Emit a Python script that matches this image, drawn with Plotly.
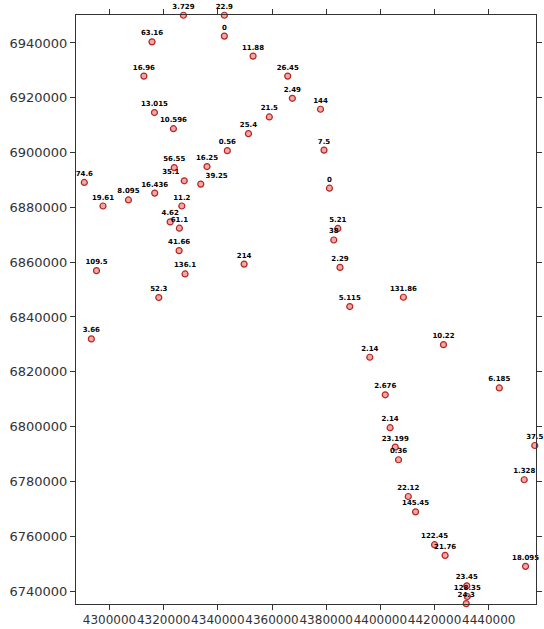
import plotly.graph_objects as go

# Sample locations (easting, northing) and measured values
easting = [
    4327300, 4342400, 4342400, 4315700, 4312700, 4316600, 4323600, 4287300,
    4343500, 4353000, 4365800, 4367500, 4377900, 4359000, 4351300, 4379200,
    4323900, 4336000, 4327600, 4333700, 4290700, 4316700, 4307000, 4297600,
    4326700, 4322400, 4325800, 4325700, 4295200, 4327900, 4318200, 4381200,
    4384300, 4382800, 4349700, 4385100, 4293300, 4408500, 4388700, 4423300,
    4396100, 4443900, 4401800, 4403600, 4405500, 4406700, 4457000, 4453100,
    4410300, 4413000, 4420000, 4423900, 4453600, 4431900, 4432100, 4431700,
]
northing = [
    6950100, 6950100, 6942500, 6940400, 6927900, 6914600, 6908700, 6906000,
    6900700, 6935200, 6927900, 6919800, 6915800, 6913000, 6906900, 6900900,
    6894500, 6894900, 6889700, 6888500, 6889100, 6885200, 6882700, 6880500,
    6880500, 6874700, 6872400, 6864200, 6856900, 6855700, 6847100, 6887000,
    6872300, 6868100, 6859300, 6858100, 6832000, 6847200, 6843800, 6829900,
    6825300, 6814100, 6811600, 6799600, 6792500, 6787900, 6793100, 6780600,
    6774500, 6768900, 6756900, 6753000, 6749000, 6741900, 6738000, 6735400,
]
values = [
    "3.729", "22.9", "0", "63.16", "16.96", "13.015", "10.596", "25.9",
    "0.56", "11.88", "26.45", "2.49", "144", "21.5", "25.4", "7.5",
    "56.55", "16.25", "35.1", "39.25", "74.6", "16.436", "8.095", "19.61",
    "11.2", "4.62", "61.1", "41.66", "109.5", "136.1", "52.3", "0",
    "5.21", "38", "214", "2.29", "3.66", "131.86", "5.115", "10.22",
    "2.14", "6.185", "2.676", "2.14", "23.199", "0.36", "37.5", "1.328",
    "22.12", "145.45", "122.45", "21.76", "18.095", "23.45", "128.35", "24.3",
]

x_ticks = [4300000, 4320000, 4340000, 4360000, 4380000, 4400000, 4420000, 4440000]
y_ticks = [6740000, 6760000, 6780000, 6800000, 6820000, 6840000, 6860000,
           6880000, 6900000, 6920000, 6940000]

# labels sit above their marker; one crowded pair is nudged apart
label_pos = ["top center"] * len(values)
label_pos[18] = "top left"
label_pos[19] = "top right"

fig = go.Figure(
    go.Scatter(
        x=easting,
        y=northing,
        mode="markers+text",
        text=values,
        textposition=label_pos,
        textfont=dict(family="DejaVu Sans", size=7, color="#000000", weight="bold"),
        marker=dict(
            symbol="circle",
            size=6,
            color="rgba(225,110,110,0.6)",
            line=dict(color="#b82420", width=1.2),
        ),
        cliponaxis=False,
        hoverinfo="skip",
    )
)

axis_common = dict(
    showgrid=False,
    zeroline=False,
    showline=True,
    linecolor="#333333",
    linewidth=1,
    mirror="ticks",
    ticks="outside",
    ticklen=5,
    tickcolor="#333333",
)

fig.update_xaxes(
    range=[4287636, 4457454],
    tickvals=x_ticks,
    ticktext=[str(v) for v in x_ticks],
    tickangle=0,
    tickfont=dict(family="DejaVu Sans", size=12, color="#333333"),
    **axis_common,
)
fig.update_yaxes(
    range=[6735264, 6950200],
    tickvals=y_ticks,
    ticktext=[str(v) for v in y_ticks],
    tickfont=dict(family="DejaVu Sans", size=13, color="#333333"),
    **axis_common,
)

fig.update_layout(
    width=544,
    height=629,
    margin=dict(l=76, r=2, t=15, b=24),
    paper_bgcolor="white",
    plot_bgcolor="white",
    showlegend=False,
)

fig.write_html("out.html")
